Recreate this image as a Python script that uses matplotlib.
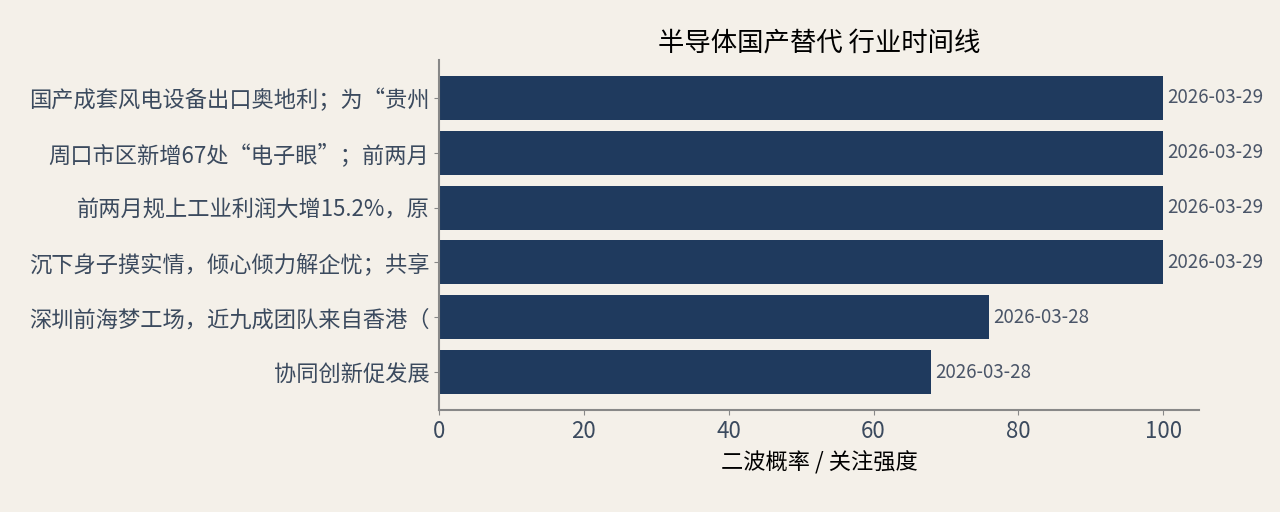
import matplotlib
matplotlib.use("Agg")
import matplotlib.pyplot as plt

plt.rcParams['font.family'] = ['Noto Sans CJK SC', 'DejaVu Sans']

labels = [
    "国产成套风电设备出口奥地利；为“贵州",
    "周口市区新增67处“电子眼”；前两月",
    "前两月规上工业利润大增15.2%，原",
    "沉下身子摸实情，倾心倾力解企忧；共享",
    "深圳前海梦工场，近九成团队来自香港（",
    "协同创新促发展",
]
values = [100, 100, 100, 100, 76, 68]
dates = ["2026-03-29", "2026-03-29", "2026-03-29", "2026-03-29", "2026-03-28", "2026-03-28"]

bg = '#f4f0e9'
bar_color = '#1f3a5e'
text_color = '#3b4a5e'

fig = plt.figure(figsize=(12.8, 5.12), dpi=100, facecolor=bg)
ax = fig.add_axes([0.343, 0.199, 0.594, 0.684], facecolor=bg)

y = list(range(len(labels)))[::-1]
ax.barh(y, values, height=0.8, color=bar_color)
for yi, v, d in zip(y, values, dates):
    ax.text(v + 0.5, yi, d, va='center', ha='left', fontsize=13.5, color='#4a5568')

ax.set_yticks(y)
ax.set_yticklabels(labels)
ax.set_xlim(0, 105)
ax.set_xticks([0, 20, 40, 60, 80, 100])
ax.tick_params(axis='both', labelsize=16, colors='#888888', labelcolor=text_color)
ax.set_xlabel("二波概率 / 关注强度", fontsize=16, color='black', labelpad=6)
ax.set_title("半导体国产替代 行业时间线", fontsize=19, color='black', pad=6)

for s in ['top', 'right']:
    ax.spines[s].set_visible(False)
for s in ['left', 'bottom']:
    ax.spines[s].set_color('#888888')
    ax.spines[s].set_linewidth(1.5)

fig.savefig("out.png", dpi=100, facecolor=bg)
